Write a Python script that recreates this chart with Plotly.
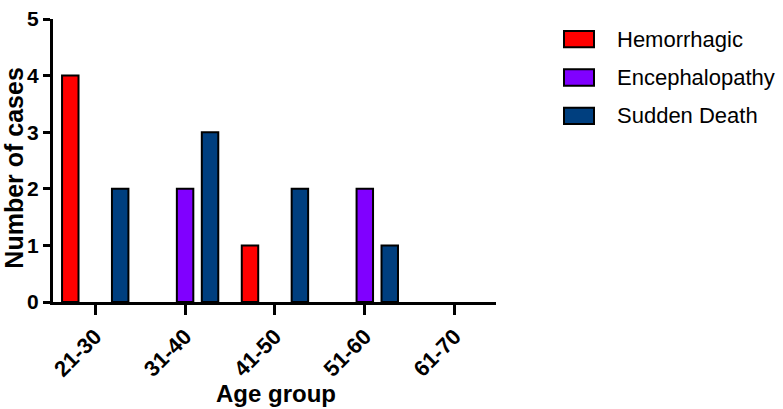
import plotly.graph_objects as go

categories = ["21-30", "31-40", "41-50", "51-60", "61-70"]
hemorrhagic = [4, 0, 1, 0, 0]
encephalopathy = [0, 2, 0, 2, 0]
sudden_death = [2, 3, 2, 1, 0]
series_names = ["Hemorrhagic", "Encephalopathy", "Sudden Death"]
series_colors = ["#FF0000", "#8000FF", "#003F7F"]
x_title = "Age group"
y_title = "Number of cases"

W, H = 783, 409
L, R, T, B = 53, 496, 7, 302  # plot area pixel bounds

def px(x):
    return (x - L) / (R - L)

def py(y):
    return (B - y) / (B - T)

FONT = "Liberation Sans, Arial, sans-serif"

fig = go.Figure()
for name, vals, col in zip(series_names, [hemorrhagic, encephalopathy, sudden_death], series_colors):
    fig.add_trace(go.Bar(
        x=categories, y=vals, name=name,
        marker=dict(color=col, line=dict(color="black",
                                         width=[2 if v > 0 else 0 for v in vals])),
        showlegend=False, hoverinfo="skip",
    ))

fig.update_layout(
    width=W, height=H,
    margin=dict(l=L, r=W - R, t=T, b=H - B),
    paper_bgcolor="white", plot_bgcolor="white",
    barmode="group", bargap=0.167, bargroupgap=0.34,
    font=dict(family=FONT, color="black"),
)
fig.update_xaxes(
    type="category", range=[-0.47, 4.46],
    showline=True, linecolor="black", linewidth=3,
    ticks="outside", ticklen=10, tickwidth=3, tickcolor="black",
    tickangle=-45, tickfont=dict(size=22, weight="bold", family=FONT),
    showgrid=False, zeroline=False,
)
fig.update_yaxes(
    range=[0, 5], dtick=1,
    showline=True, linecolor="black", linewidth=3,
    ticks="outside", ticklen=7, tickwidth=3, tickcolor="black",
    tickfont=dict(size=21, weight="bold", family=FONT),
    ticklabeloverflow="allow",
    showgrid=False, zeroline=False,
)

ann = [
    dict(text=y_title, x=px(14), y=py(163), xref="paper", yref="paper",
         textangle=-90, showarrow=False, xanchor="center", yanchor="middle",
         font=dict(size=25, weight="bold", family=FONT)),
    dict(text=x_title, x=px(276), y=py(397), xref="paper", yref="paper",
         showarrow=False, xanchor="center", yanchor="middle",
         font=dict(size=24, weight="bold", family=FONT)),
]
shapes = []
for i, (name, col) in enumerate(zip(series_names, series_colors)):
    cy = 28 + 40 * i
    shapes.append(dict(type="rect", xref="paper", yref="paper",
                       x0=px(564), x1=px(594), y0=py(cy + 8.5), y1=py(cy - 8.5),
                       fillcolor=col, line=dict(color="black", width=2)))
    ann.append(dict(text=name, x=px(615), y=py(cy), xref="paper", yref="paper",
                    showarrow=False, xanchor="left", yanchor="middle",
                    font=dict(size=22, family=FONT)))
fig.update_layout(annotations=ann, shapes=shapes)

fig.write_html(
    "out.html",
    config={"displayModeBar": False},
    post_script="document.body.style.margin='0';document.body.style.overflow='hidden';",
)
